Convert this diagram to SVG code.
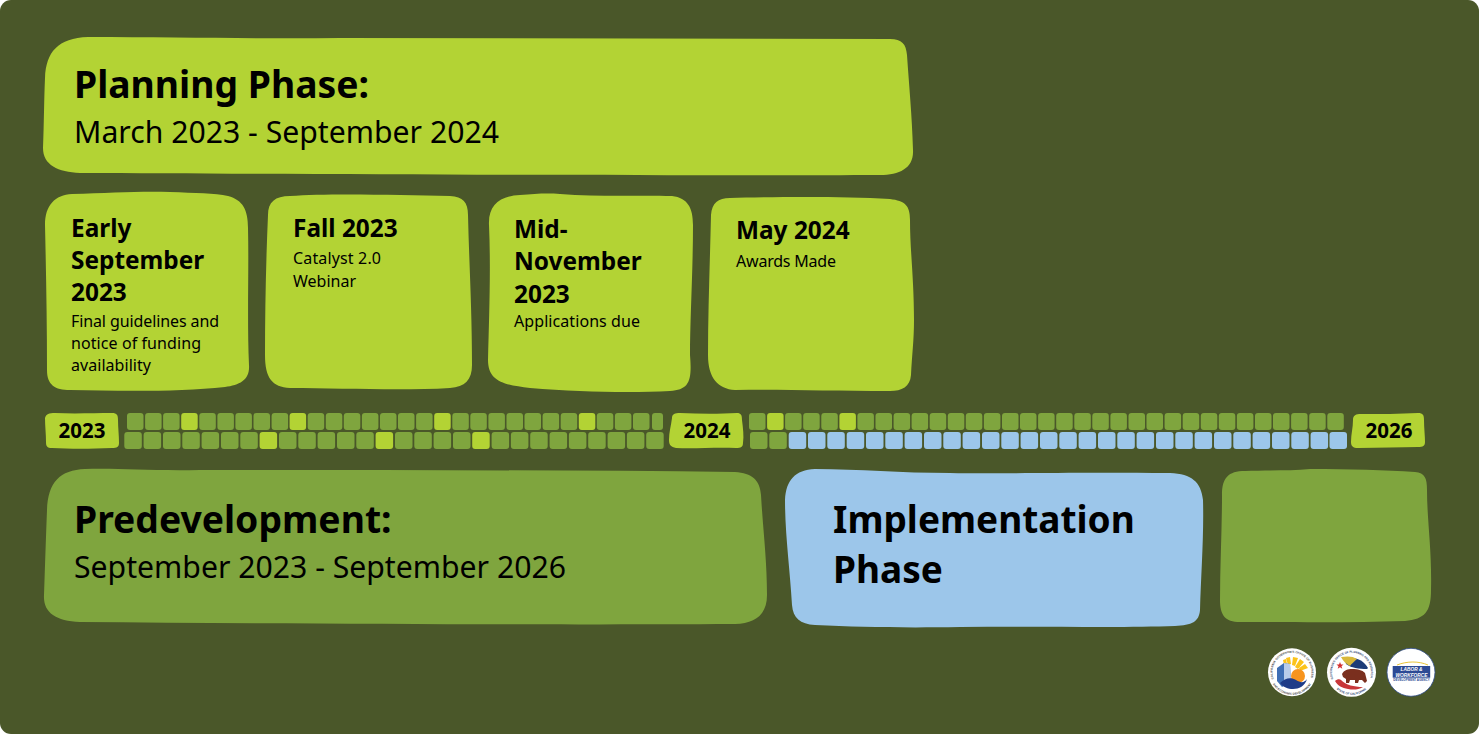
<svg xmlns="http://www.w3.org/2000/svg" width="1479" height="734" viewBox="0 0 1479 734">
<style>
.lime{fill:#b3d334}.green{fill:#7fa53e}.blue{fill:#9cc6ea}
text{font-family:"Noto Sans","Open Sans","Liberation Sans",sans-serif;fill:#000}
.h1{font-size:37.300px;font-weight:700}
.h2{font-size:30.200px}
.h3{font-size:24.400px;font-weight:700}
.p{font-size:16px}
.yr{font-size:20.500px;font-weight:700;text-anchor:middle}
.g1 rect,.g2 rect{height:17px}
.g1 rect{width:16.500px}.g2 rect{width:17.500px}
.cell{rx:3px}
text.lg{font-family:"Liberation Sans",sans-serif;font-weight:700}
</style>
<defs>
<path id="top-arc" d="M-18.300 6.700A19.500 19.500 0 1 1 18.300 6.700"/>
<path id="bottom-arc" d="M-22 4.700A22.500 22.500 0 0 0 22 4.700"/>
</defs>
<rect width="1479" height="734" fill="#fff"/>
<rect id="bg" width="1479" height="734" rx="11" fill="#4a5729"/>

<g id="planning">
<path class="lime" d="M45 78C46 52 58 38 88 37C180 37 260 39 340 38L890 39C902 39 906 44 907 55C909 85 912 115 913 150C914 168 900 175 880 175C700 176 300 174 80 173C58 172 43 165 43 148C44 125 44 100 45 78Z"/>
<text class="h1" x="74" y="98">Planning Phase:</text>
<text class="h2" x="74" y="143">March 2023 - September 2024</text>
</g>

<g id="card-early-september">
<path class="lime" d="M45 225C45 205 55 195 72 194C110 193 140 191 170 192C195 193 215 193 228 196C243 200 248 210 248 228C249 270 247 320 249 365C250 380 240 385 225 387C180 392 120 391 70 390C55 390 47 385 47 370C47 320 46 270 45 225Z"/>
<text class="h3" x="71" y="237">Early</text>
<text class="h3" x="71" y="269">September</text>
<text class="h3" x="71" y="301">2023</text>
<text class="p" x="71" y="327" textLength="148">Final guidelines and</text>
<text class="p" x="71" y="349" textLength="130">notice of funding</text>
<text class="p" x="71" y="371" textLength="80">availability</text>
</g>

<g id="card-fall">
<path class="lime" d="M268 215C268 202 275 196 290 196C330 193 400 195 450 196C463 197 468 202 468 215C469 260 472 310 472 365C472 380 465 387 450 388C400 391 340 388 290 388C272 387 265 378 265 355C265 310 266 260 268 215Z"/>
<text class="h3" x="293" y="237">Fall 2023</text>
<text class="p" x="293" y="264" textLength="88">Catalyst 2.0</text>
<text class="p" x="293" y="287" textLength="63">Webinar</text>
</g>

<g id="card-mid-november">
<path class="lime" d="M489 225C488 205 500 196 520 195C535 194 545 193 560 194C600 197 640 195 672 196C688 198 693 208 693 225C693 270 690 320 690 355C692 380 690 390 670 391C630 393 580 392 530 388C505 385 488 382 488 360C489 320 491 270 489 225Z"/>
<text class="h3" x="514" y="238">Mid-</text>
<text class="h3" x="514" y="270">November</text>
<text class="h3" x="514" y="303">2023</text>
<text class="p" x="514" y="327" textLength="126">Applications due</text>
</g>

<g id="card-may">
<path class="lime" d="M711 215C712 203 718 198 730 198C770 197 840 196 890 199C905 201 910 205 910 220C910 250 914 280 914 320C914 340 912 355 911 375C910 387 902 391 890 391C830 391 780 389 735 390C718 389 708 378 708 355C708 310 710 260 711 215Z"/>
<text class="h3" x="736" y="239">May 2024</text>
<text class="p" x="736" y="267" textLength="100">Awards Made</text>
</g>

<g id="label-2023">
<path class="lime" d="M45 418C46 414 49 413 55 413C75 414 95 413 112 413C117 413 118 415 118 420C118 428 119 435 119 443C119 447 117 448 112 448C90 449 70 449 52 448C47 448 46 446 46 442C46 434 45 426 45 418Z"/>
<text class="yr" x="82" y="438">2023</text>
</g>
<g id="label-2024">
<path class="lime" d="M672 418C672 414 675 413 680 413C700 414 720 414 737 413C741 413 742 415 742 420C743 428 744 436 743 443C743 447 741 448 736 448C715 447 695 449 676 448C671 447 669 445 669 440C669 432 671 426 672 418Z"/>
<text class="yr" x="707" y="438">2024</text>
</g>
<g id="label-2026">
<path class="lime" d="M1353 420C1353 415 1356 414 1361 414C1380 414 1400 414 1418 413C1423 413 1424 415 1424 420C1424 428 1425 436 1425 442C1425 446 1423 447 1418 447C1400 447 1380 448 1358 448C1353 448 1351 446 1351 442C1351 434 1353 428 1353 420Z"/>
<text class="yr" x="1389" y="438">2026</text>
</g>

<g id="timeline" >
<g class="g1" id="row1-2023">
<rect class="cell green" x="127" y="413"/><rect class="cell green" x="145.100" y="413"/><rect class="cell green" x="163.100" y="413"/><rect class="cell lime" x="181.200" y="413"/><rect class="cell green" x="199.300" y="413"/><rect class="cell green" x="217.400" y="413"/><rect class="cell green" x="235.400" y="413"/><rect class="cell green" x="253.500" y="413"/><rect class="cell green" x="271.600" y="413"/><rect class="cell lime" x="289.600" y="413"/><rect class="cell green" x="307.700" y="413"/><rect class="cell green" x="325.800" y="413"/><rect class="cell green" x="343.800" y="413"/><rect class="cell green" x="361.900" y="413"/><rect class="cell green" x="380" y="413"/><rect class="cell green" x="398" y="413"/><rect class="cell green" x="416.100" y="413"/><rect class="cell lime" x="434.200" y="413"/><rect class="cell green" x="452.300" y="413"/><rect class="cell green" x="470.300" y="413"/><rect class="cell green" x="488.400" y="413"/><rect class="cell green" x="506.500" y="413"/><rect class="cell green" x="524.500" y="413"/><rect class="cell green" x="542.600" y="413"/><rect class="cell green" x="560.700" y="413"/><rect class="cell lime" x="578.800" y="413"/><rect class="cell green" x="596.800" y="413"/><rect class="cell green" x="614.900" y="413"/><rect class="cell green" x="633" y="413"/><rect class="cell green" x="652" y="413" style="width:11px"/>
</g>
<g class="g2" id="row2-2023">
<rect class="cell green" x="124.300" y="432"/><rect class="cell green" x="143.600" y="432"/><rect class="cell green" x="163" y="432"/><rect class="cell green" x="182.300" y="432"/><rect class="cell green" x="201.600" y="432"/><rect class="cell green" x="221" y="432"/><rect class="cell green" x="240.300" y="432"/><rect class="cell lime" x="259.600" y="432"/><rect class="cell green" x="279" y="432"/><rect class="cell green" x="298.300" y="432"/><rect class="cell green" x="317.600" y="432"/><rect class="cell green" x="337" y="432"/><rect class="cell green" x="356.300" y="432"/><rect class="cell lime" x="375.600" y="432"/><rect class="cell green" x="395" y="432"/><rect class="cell green" x="414.300" y="432"/><rect class="cell green" x="433.600" y="432"/><rect class="cell green" x="453" y="432"/><rect class="cell lime" x="472.200" y="432"/><rect class="cell green" x="491.600" y="432"/><rect class="cell green" x="510.900" y="432"/><rect class="cell green" x="530.200" y="432"/><rect class="cell green" x="549.600" y="432"/><rect class="cell green" x="568.900" y="432"/><rect class="cell green" x="588.200" y="432"/><rect class="cell green" x="607.600" y="432"/><rect class="cell green" x="626.900" y="432"/><rect class="cell green" x="646.200" y="432"/>
</g>
<g class="g1" id="row1-2024">
<rect class="cell green" x="749" y="413"/><rect class="cell lime" x="767.100" y="413"/><rect class="cell green" x="785.100" y="413"/><rect class="cell green" x="803.200" y="413"/><rect class="cell green" x="821.300" y="413"/><rect class="cell lime" x="839.400" y="413"/><rect class="cell green" x="857.400" y="413"/><rect class="cell green" x="875.500" y="413"/><rect class="cell green" x="893.600" y="413"/><rect class="cell green" x="911.600" y="413"/><rect class="cell green" x="929.700" y="413"/><rect class="cell green" x="947.800" y="413"/><rect class="cell green" x="965.800" y="413"/><rect class="cell green" x="983.900" y="413"/><rect class="cell green" x="1002" y="413"/><rect class="cell green" x="1020" y="413"/><rect class="cell green" x="1038.100" y="413"/><rect class="cell green" x="1056.200" y="413"/><rect class="cell green" x="1074.300" y="413"/><rect class="cell green" x="1092.300" y="413"/><rect class="cell green" x="1110.400" y="413"/><rect class="cell green" x="1128.500" y="413"/><rect class="cell green" x="1146.500" y="413"/><rect class="cell green" x="1164.600" y="413"/><rect class="cell green" x="1182.700" y="413"/><rect class="cell green" x="1200.800" y="413"/><rect class="cell green" x="1218.800" y="413"/><rect class="cell green" x="1236.900" y="413"/><rect class="cell green" x="1255" y="413"/><rect class="cell green" x="1273" y="413"/><rect class="cell green" x="1291.100" y="413"/><rect class="cell green" x="1309.200" y="413"/><rect class="cell green" x="1327.300" y="413"/>
</g>
<g class="g2" id="row2-2024">
<rect class="cell green" x="750" y="432"/><rect class="cell green" x="769.300" y="432"/><rect class="cell blue" x="788.700" y="432"/><rect class="cell blue" x="808" y="432"/><rect class="cell blue" x="827.300" y="432"/><rect class="cell blue" x="846.700" y="432"/><rect class="cell blue" x="866" y="432"/><rect class="cell blue" x="885.300" y="432"/><rect class="cell blue" x="904.600" y="432"/><rect class="cell blue" x="924" y="432"/><rect class="cell blue" x="943.300" y="432"/><rect class="cell blue" x="962.600" y="432"/><rect class="cell blue" x="982" y="432"/><rect class="cell blue" x="1001.300" y="432"/><rect class="cell blue" x="1020.600" y="432"/><rect class="cell blue" x="1040" y="432"/><rect class="cell blue" x="1059.300" y="432"/><rect class="cell blue" x="1078.600" y="432"/><rect class="cell blue" x="1098" y="432"/><rect class="cell blue" x="1117.300" y="432"/><rect class="cell blue" x="1136.600" y="432"/><rect class="cell blue" x="1156" y="432"/><rect class="cell blue" x="1175.300" y="432"/><rect class="cell blue" x="1194.600" y="432"/><rect class="cell blue" x="1214" y="432"/><rect class="cell blue" x="1233.300" y="432"/><rect class="cell blue" x="1252.600" y="432"/><rect class="cell blue" x="1272" y="432"/><rect class="cell blue" x="1291.300" y="432"/><rect class="cell blue" x="1310.600" y="432"/><rect class="cell blue" x="1329.500" y="432"/>
</g>
</g>

<g id="predevelopment">
<path class="green" d="M47 510C48 482 60 470 85 469C120 468 150 471 200 470C380 470 560 470 735 472C752 473 760 480 761 495C763 530 767 560 767 595C767 615 755 623 735 624C560 625 300 624 80 622C55 621 43 612 44 595C45 565 46 535 47 510Z"/>
<text class="h1" x="74" y="533">Predevelopment:</text>
<text class="h2" x="74" y="578">September 2023 - September 2026</text>
</g>

<g id="implementation">
<path class="blue" d="M785 500C786 480 795 470 815 469C860 469 900 473 950 473C1000 474 1060 472 1170 473C1192 474 1201 482 1203 500C1204 535 1201 575 1200 610C1199 622 1192 625 1175 626C1120 628 1040 626 960 627C900 628 860 627 815 625C800 624 793 618 792 605C790 570 785 535 785 500Z"/>
<text class="h1" x="833" y="533" style="font-size:37px">Implementation</text>
<text class="h1" x="833" y="583" style="font-size:37px">Phase</text>
</g>

<g id="remainder">
<path class="green" d="M1222 495C1222 478 1228 471 1245 471C1265 470 1290 471 1310 469C1350 469 1385 470 1415 472C1425 473 1427 478 1427 490C1427 520 1432 550 1431 590C1431 612 1425 619 1405 621C1350 623 1290 622 1240 622C1225 622 1220 615 1220 600C1220 565 1222 530 1222 495Z"/>
</g>

<g id="logo-business">
<circle cx="1292" cy="672.300" r="24" fill="#fff"/>
<path fill="#fbc31a" d="M1286 658l4-1 1 7-3 1zM1293 657l5 1-3 8-3-1zM1300 659l4 3-6 7-3-2zM1305 664l3 4-8 3-1-3zM1283 660l3-1 1 5-3 1z"/>
<path fill="#3f6fb5" d="M1277 668l7-5 6 1 1 18-9 5-5-6z"/>
<path fill="#b9cdea" d="M1284 663l3 .5 3 .5 1 17-7 2z"/>
<circle cx="1298" cy="676" r="7" fill="#f7941e"/>
<path fill="#1f3c88" d="M1280 683c5-5 11-6 16-3 5 3 8 3 11-1-2 7-8 10-14 10-5 0-10-2-13-6z"/>
<text class="lg" transform="translate(1292 672.300)" font-size="2.900" style="fill:#4a4a4a"><textPath href="#top-arc" textLength="73" lengthAdjust="spacingAndGlyphs">CALIFORNIA GOVERNOR'S OFFICE OF BUSINESS</textPath></text>
<text class="lg" transform="translate(1292 672.300)" font-size="2.900" text-anchor="middle" style="fill:#4a4a4a"><textPath href="#bottom-arc" startOffset="50%">AND ECONOMIC DEVELOPMENT</textPath></text>
</g>

<g id="logo-planning">
<circle cx="1351.500" cy="672.300" r="24.500" fill="#fff"/>
<path fill="#1d3c78" d="M1345 659c9-3 18 0 23 9l-1 1c-8 0-16-1-21-5z"/>
<path fill="#d8b83a" d="M1341 657c6-1 12-1 16 2-3 3-6 5-7 7-4-2-7-5-9-9z"/>
<path fill="#d32f2f" d="M1340 662l1 2.500 2.500 0-2 1.700.8 2.600-2.300-1.500-2.300 1.500.8-2.600-2-1.700 2.500 0z"/>
<path fill="#7a2f1e" d="M1342 674c2-4 6-5 10-5 6 0 10 1 13 4l2 8-2 2-3-3-3 0-1 3-3 0 0-3-5 0-1 3-3 0 0-4-3-2z"/>
<path fill="#c8373a" d="M1335 681c2-2 5-2 6-1 5 5 13 7 22 7-5 3-10 3-15 2-6-1-10-3-13-8z"/>
<text class="lg" transform="translate(1351.500 672.300)" font-size="2.900" style="fill:#2a3f6d"><textPath href="#top-arc" textLength="73" lengthAdjust="spacingAndGlyphs">GOVERNOR'S OFFICE OF PLANNING AND RESEARCH</textPath></text>
<text class="lg" transform="translate(1351.500 672.300)" font-size="2.900" text-anchor="middle" style="fill:#2a3f6d"><textPath href="#bottom-arc" startOffset="50%">STATE OF CALIFORNIA</textPath></text>
</g>

<g id="logo-labor">
<circle cx="1411" cy="672.300" r="24" fill="#fff" stroke="#2d4a8a" stroke-width=".8"/>
<path d="M1397 665c10-4 22-4 31 0" fill="none" stroke="#e9c53a" stroke-width="1"/>
<rect x="1392.700" y="666" width="37.500" height="11.700" fill="#2c4a94"/>
<text class="lg" x="1411.500" y="671" font-size="4.800" text-anchor="middle" font-style="italic" style="fill:#fff">LABOR &amp;</text>
<text class="lg" x="1411.500" y="676.500" font-size="4.800" text-anchor="middle" font-style="italic" style="fill:#fff">WORKFORCE</text>
<text class="lg" x="1411.500" y="680.800" font-size="3" text-anchor="middle" style="fill:#2c4a94">DEVELOPMENT AGENCY</text>
</g>
</svg>
